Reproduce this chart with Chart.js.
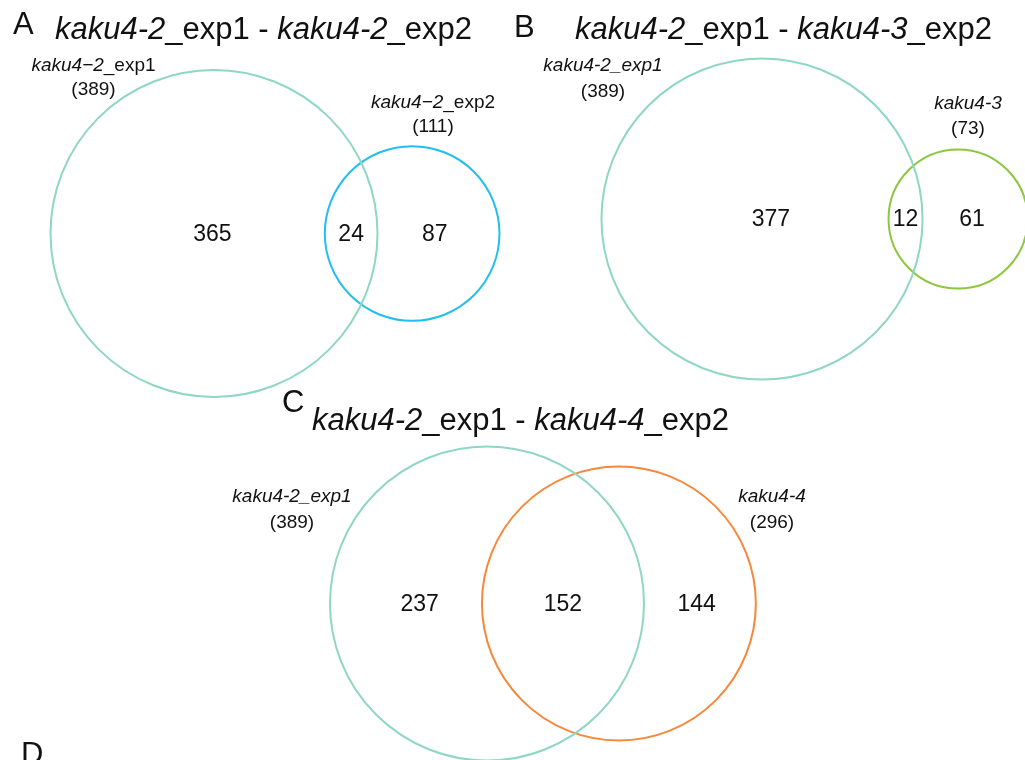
<!DOCTYPE html>
<html>
<head>
<meta charset="utf-8">
<script src="https://cdn.jsdelivr.net/npm/chart.js@4"></script>
<style>
  body { margin: 0; background: #fff; font-family: "Liberation Sans", Arial, sans-serif; color: #111; }
  #wrap { position: relative; width: 1025px; height: 760px; overflow: hidden; }
  #venn { position: absolute; left: 0; top: 0; }
  .t { position: absolute; font-size: 31px; line-height: 1; white-space: nowrap; }
</style>
</head>
<body>
<div id="wrap">
  <canvas id="venn" width="1025" height="760"></canvas>
</div>
<script>
// --- data ---
const panelIds = ['A', 'B', 'C'];
const titleLeft = ['kaku4-2', 'kaku4-2', 'kaku4-2'];
const titleRight = ['kaku4-2', 'kaku4-3', 'kaku4-4'];
const set1Names = ['kaku4\u22122_exp1', 'kaku4-2_exp1', 'kaku4-2_exp1'];
const set2Names = ['kaku4\u22122_exp2', 'kaku4-3', 'kaku4-4'];
const set1Sizes = [389, 389, 389];
const set2Sizes = [111, 73, 296];
const overlapSizes = [24, 12, 152];

// --- layout (pixel units of the hidden scales) ---
const layout = [
  { cx: 214, cy: 233.5, k: 8.29, lab1: [93.5, 66, 90], lab2: [433, 103, 127], italicAll: false, c2: '#22bfee',
    letter: [13, 8], title: [55, 13] },
  { cx: 762, cy: 219, k: 8.14, lab1: [603, 66, 92], lab2: [968, 104, 129], italicAll: true, c2: '#8dc63f',
    letter: [514, 10.5], title: [575, 13] },
  { cx: 487, cy: 603.5, k: 7.96, lab1: [292, 497, 523], lab2: [772, 497, 523], italicAll: true, c2: '#f7873a',
    letter: [282, 385.5], title: [312, 404] }
];
const teal = '#8fd6c3';

function lensArea(r1, r2, d) {
  if (d >= r1 + r2) return 0;
  if (d <= Math.abs(r1 - r2)) return Math.PI * Math.min(r1, r2) ** 2;
  const a = r1 * r1 * Math.acos((d * d + r1 * r1 - r2 * r2) / (2 * d * r1));
  const b = r2 * r2 * Math.acos((d * d + r2 * r2 - r1 * r1) / (2 * d * r2));
  const c = 0.5 * Math.sqrt((-d + r1 + r2) * (d + r1 - r2) * (d - r1 + r2) * (d + r1 + r2));
  return a + b - c;
}

// circle geometry: radius from set size, distance from overlap size
const geo = panelIds.map((id, i) => {
  const L = layout[i];
  const r1 = L.k * Math.sqrt(set1Sizes[i]);
  const r2 = L.k * Math.sqrt(set2Sizes[i]);
  const target = Math.PI * L.k * L.k * overlapSizes[i];
  let lo = Math.abs(r1 - r2), hi = r1 + r2;
  for (let n = 0; n < 60; n++) {
    const mid = (lo + hi) / 2;
    if (lensArea(r1, r2, mid) > target) lo = mid; else hi = mid;
  }
  const d = (lo + hi) / 2;
  return { x1: L.cx, y: L.cy, r1: r1, x2: L.cx + d, r2: r2 };
});

// titles as html text
const wrap = document.getElementById('wrap');
panelIds.forEach((id, i) => {
  const L = layout[i];
  const a = document.createElement('div');
  a.className = 't';
  a.style.left = L.letter[0] + 'px';
  a.style.top = L.letter[1] + 'px';
  a.textContent = id;
  wrap.appendChild(a);
  const t = document.createElement('div');
  t.className = 't';
  t.style.left = L.title[0] + 'px';
  t.style.top = L.title[1] + 'px';
  t.innerHTML = '<i>' + titleLeft[i] + '</i>_exp1 - <i>' + titleRight[i] + '</i>_exp2';
  wrap.appendChild(t);
});
const dLetter = document.createElement('div');
dLetter.className = 't';
dLetter.style.left = '21px';
dLetter.style.top = '738px';
dLetter.textContent = 'D';
wrap.appendChild(dLetter);

function radiusFromScale(ctx) {
  const s = ctx.chart.scales.x;
  const p = ctx.raw;
  return s.getPixelForValue(p.x + p.r) - s.getPixelForValue(p.x);
}

const datasets = [];
geo.forEach((g, i) => {
  datasets.push({
    data: [{ x: g.x1, y: g.y, r: g.r1 }],
    pointBorderColor: teal, pointBackgroundColor: 'rgba(0,0,0,0)',
    pointBorderWidth: 2, pointRadius: radiusFromScale, clip: false
  });
  datasets.push({
    data: [{ x: g.x2, y: g.y, r: g.r2 }],
    pointBorderColor: layout[i].c2, pointBackgroundColor: 'rgba(0,0,0,0)',
    pointBorderWidth: 2, pointRadius: radiusFromScale, clip: false
  });
});

function drawParts(ctx, parts, cx, cy, size) {
  let w = 0;
  parts.forEach(p => {
    ctx.font = (p[1] ? 'italic ' : '') + size + 'px "Liberation Sans", Arial, sans-serif';
    w += ctx.measureText(p[0]).width;
  });
  let x = cx - w / 2;
  parts.forEach(p => {
    ctx.font = (p[1] ? 'italic ' : '') + size + 'px "Liberation Sans", Arial, sans-serif';
    ctx.fillText(p[0], x, cy);
    x += ctx.measureText(p[0]).width;
  });
}

function nameParts(name, italicAll) {
  if (italicAll) return [[name, true]];
  const k = name.indexOf('_');
  return k < 0 ? [[name, true]] : [[name.slice(0, k), true], [name.slice(k), false]];
}

const vennLabels = {
  id: 'vennLabels',
  afterDatasetsDraw(chart) {
    const { ctx, scales: { x, y } } = chart;
    ctx.save();
    ctx.fillStyle = '#111';
    ctx.textAlign = 'left';
    ctx.textBaseline = 'middle';
    geo.forEach((g, i) => {
      const L = layout[i];
      const left1 = g.x1 - g.r1, right1 = g.x1 + g.r1;
      const left2 = g.x2 - g.r2, right2 = g.x2 + g.r2;
      const counts = [set1Sizes[i] - overlapSizes[i], overlapSizes[i], set2Sizes[i] - overlapSizes[i]];
      const xs = [left1 + 0.59 * (left2 - left1), (left2 + right1) / 2, right1 + 0.47 * (right2 - right1)];
      counts.forEach((c, j) => {
        drawParts(ctx, [[String(c), false]], x.getPixelForValue(xs[j]), y.getPixelForValue(g.y + 1), 23);
      });
      drawParts(ctx, nameParts(set1Names[i], L.italicAll), x.getPixelForValue(L.lab1[0]), y.getPixelForValue(L.lab1[1]), 19);
      drawParts(ctx, [['(' + set1Sizes[i] + ')', false]], x.getPixelForValue(L.lab1[0]), y.getPixelForValue(L.lab1[2]), 19);
      drawParts(ctx, nameParts(set2Names[i], L.italicAll), x.getPixelForValue(L.lab2[0]), y.getPixelForValue(L.lab2[1]), 19);
      drawParts(ctx, [['(' + set2Sizes[i] + ')', false]], x.getPixelForValue(L.lab2[0]), y.getPixelForValue(L.lab2[2]), 19);
    });
    ctx.restore();
  }
};

new Chart(document.getElementById('venn'), {
  type: 'scatter',
  data: { datasets: datasets },
  options: {
    responsive: false,
    animation: false,
    events: [],
    layout: { padding: 0 },
    plugins: { legend: { display: false }, tooltip: { enabled: false } },
    scales: {
      x: { type: 'linear', min: 0, max: 1025, display: false },
      y: { type: 'linear', min: 0, max: 760, reverse: true, display: false }
    }
  },
  plugins: [vennLabels]
});
</script>
</body>
</html>
